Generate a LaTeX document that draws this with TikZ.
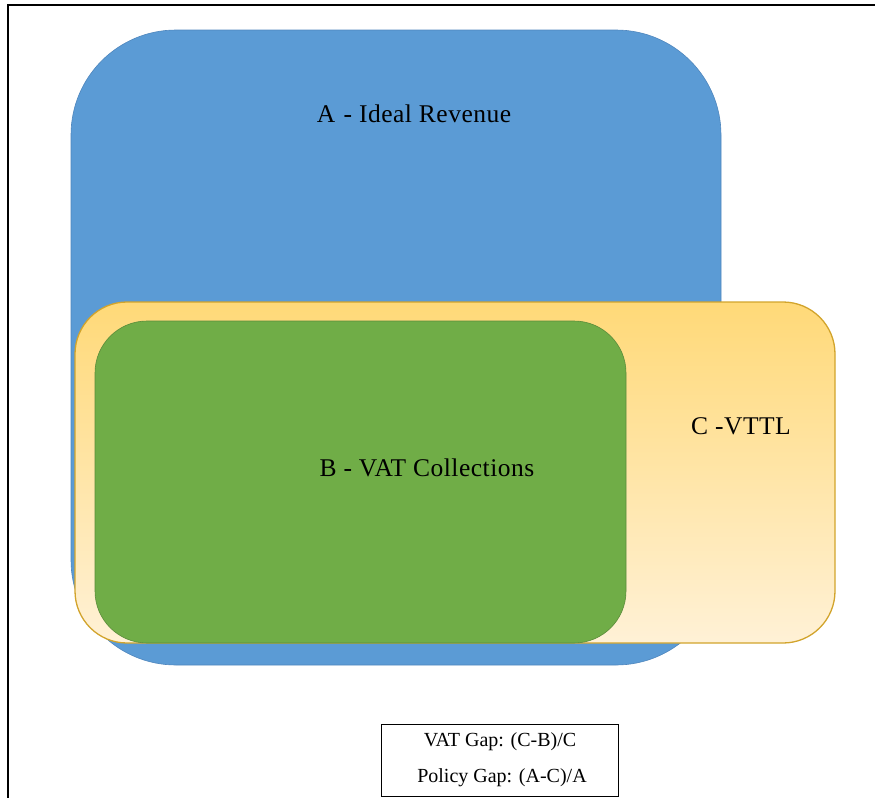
\documentclass[tikz,border=0pt]{standalone}
\usepackage{fontspec}
\setmainfont{Liberation Serif}
\newfontfamily\spacedserif{Liberation Serif}[LetterSpace=2]
\definecolor{ablue}{HTML}{5B9BD5}
\definecolor{ablueedge}{HTML}{4F86BD}
\definecolor{bgreen}{HTML}{70AD47}
\definecolor{bgreenedge}{HTML}{5A8C3A}
\definecolor{cgoldtop}{HTML}{FFD978}
\definecolor{cgoldbot}{HTML}{FFF1D6}
\definecolor{cgoldedge}{HTML}{D2A42C}
\tikzset{
  setA/.style={fill=ablue, draw=ablueedge, line width=0.6pt, rounded corners=105pt},
  setC/.style={top color=cgoldtop, bottom color=cgoldbot, draw=cgoldedge, line width=1.3pt, rounded corners=52pt},
  setB/.style={fill=bgreen, draw=bgreenedge, line width=0.6pt, rounded corners=52pt},
  biglabel/.style={font=\spacedserif\fontsize{25.5}{28}\selectfont, text=black, inner sep=0pt},
  legendbox/.style={draw=black, line width=1pt, fill=white},
  legendtext/.style={font=\fontsize{20}{22}\selectfont, text=black, inner sep=0pt},
  framerule/.style={draw=black, line width=2.2pt}
}
\begin{document}
\begin{tikzpicture}[x=1pt, y=-1pt]
\useasboundingbox (0,0) rectangle (875,798);
% frame (top and left rules)
\coordinate (ftr) at (875,5);
\coordinate (ftl) at (8,5);
\coordinate (fbl) at (8,798);
\draw[framerule] (ftr) -- (ftl) -- (fbl);
% A - ideal revenue
\path[setA] (71,30) rectangle (721,665);
% C - VTTL
\path[setC] (75,302) rectangle (835,643);
% B - VAT collections
\path[setB] (95,321) rectangle (626,643);
% labels
\node[biglabel] (la) at (414,114) {A\,\,- Ideal Revenue};
\node[biglabel] (lb) at (427,468) {B - VAT Collections};
\node[biglabel] (lc) at (741,426) {C -VTTL};
% legend
\path[legendbox] (381,724) rectangle (618,796);
\node[legendtext] (g1) at (500,742) {VAT Gap: (C-B)/C};
\node[legendtext] (g2) at (502,778) {Policy Gap: (A-C)/A};
\end{tikzpicture}
\end{document}
